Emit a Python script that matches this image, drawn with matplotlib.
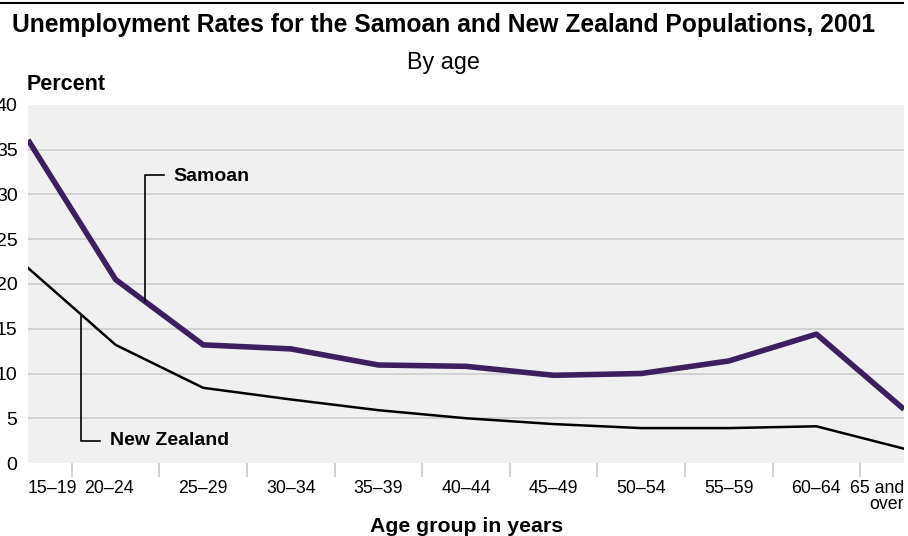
"""Unemployment rates for the Samoan and New Zealand populations, 2001 (by age)."""
import matplotlib
matplotlib.use("Agg")
import matplotlib.pyplot as plt
import numpy as np

plt.rcParams["font.family"] = ["Liberation Sans", "DejaVu Sans"]

AGE_GROUPS = ["15–19", "20–24", "25–29", "30–34", "35–39", "40–44",
              "45–49", "50–54", "55–59", "60–64", "65 and\nover"]
SAMOAN = [36.1, 20.5, 13.2, 12.75, 10.95, 10.8, 9.8, 10.0, 11.4, 14.4, 6.0]
NEW_ZEALAND = [21.8, 13.2, 8.4, 7.1, 5.9, 5.0, 4.35, 3.9, 3.9, 4.1, 1.6]
Y_TICKS = [0, 5, 10, 15, 20, 25, 30, 35, 40]

PURPLE = "#3b1f5e"
BG = "#f0f0f0"
GRID = "#cccccc"

fig = plt.figure(figsize=(9.08, 5.36), dpi=100)
ax = fig.add_axes([28 / 908, 1 - 463 / 536, 876 / 908, 358 / 536])

x = np.arange(len(AGE_GROUPS))
ax.set_facecolor(BG)
for y in Y_TICKS[1:-1]:
    ax.axhline(y, color=GRID, lw=1.2, zorder=1)

ax.plot(x, NEW_ZEALAND, color="black", lw=1.8, zorder=3)
ax.plot(x, SAMOAN, color=PURPLE, lw=4, zorder=4, solid_capstyle="butt")

ax.set_xlim(0, len(AGE_GROUPS) - 1)
ax.set_ylim(0, 40)
for s in ax.spines.values():
    s.set_visible(False)

# y axis labels (partly cut at the left edge, as in the original)
ax.set_yticks(Y_TICKS)
ax.set_yticklabels([str(v) for v in Y_TICKS], fontsize=14)
ax.tick_params(axis="y", length=0, pad=7.5)

# x axis: tick marks between groups, labels under each point
ax.set_xticks(x[:-1] + 0.5)
ax.set_xticklabels([])
ax.tick_params(axis="x", length=10, width=1.2, color="#c8c8c8", direction="out")
for i, lab in enumerate(AGE_GROUPS):
    ha = "center"
    xi = i
    if i == 0:
        ha, xi = "left", 0
    elif i == 1:
        xi = 0.92
    elif i == len(AGE_GROUPS) - 1:
        ha = "right"
    ax.text(xi, -1.9, lab, ha=ha, va="top", fontsize=12.8,
            multialignment="right", linespacing=0.95)

# series labels with leader lines
ax.plot([1.33, 1.33, 1.55], [18.1, 32.2, 32.2], color="black", lw=1.2, zorder=5)
ax.text(1.66, 32.0, "Samoan", fontsize=14, fontweight="bold", va="center")
ax.plot([0.61, 0.61, 0.82], [16.5, 2.5, 2.5], color="black", lw=1.2, zorder=5)
ax.text(0.94, 2.5, "New Zealand", fontsize=14, fontweight="bold", va="center")

# headings
fig.add_artist(plt.Line2D([0, 903 / 908], [1 - 3 / 536] * 2, color="black", lw=1.5))
fig.text(12 / 908, 1 - 25 / 536, "Unemployment Rates for the Samoan and New Zealand Populations, 2001",
         fontsize=17.7, fontweight="bold", va="center")
fig.text(443 / 908, 1 - 62 / 536, "By age", fontsize=16.8, ha="center", va="center")
fig.text(27 / 908, 1 - 84 / 536, "Percent", fontsize=15.5, fontweight="bold", va="center")
fig.text(467 / 908, 1 - 527 / 536, "Age group in years", fontsize=15.3,
         fontweight="bold", ha="center", va="center")

fig.savefig("out.png", dpi=100)
